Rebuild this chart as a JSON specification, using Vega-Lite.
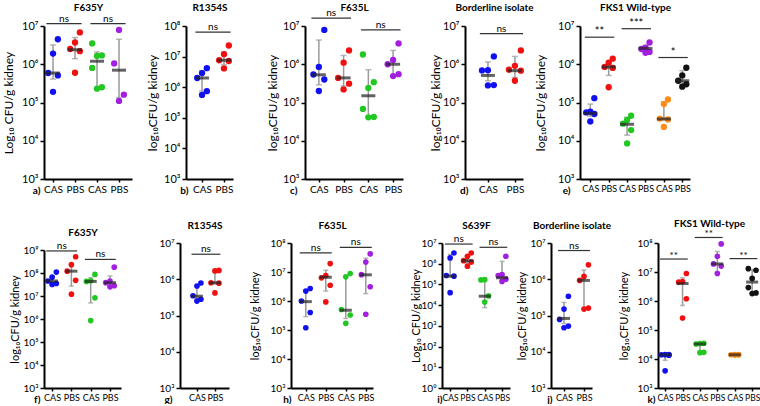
{
"$schema":"https://vega.github.io/schema/vega-lite/v6.json",
"padding":{"left":2,"top":2,"right":0,"bottom":0},
"background":"white",
"datasets":{
"pts":[
{"p":"a","s":1,"v":4.5e6},{"p":"a","s":1,"v":1.9e6},{"p":"a","s":1,"v":5.9e5},{"p":"a","s":1,"v":5.1e5},{"p":"a","s":1,"v":1.9e5},
{"p":"a","s":2,"v":6.8e6},{"p":"a","s":2,"v":3.7e6},{"p":"a","s":2,"v":2.5e6},{"p":"a","s":2,"v":2.2e6},{"p":"a","s":2,"v":6.0e5},
{"p":"a","s":3,"v":3.5e6},{"p":"a","s":3,"v":1.7e6},{"p":"a","s":3,"v":1.65e6},{"p":"a","s":3,"v":8.0e5},{"p":"a","s":3,"v":2.3e5},{"p":"a","s":3,"v":2.5e5},
{"p":"a","s":4,"v":7.9e6},{"p":"a","s":4,"v":1.05e6},{"p":"a","s":4,"v":1.1e5},{"p":"a","s":4,"v":1.6e5},
{"p":"b","s":1,"v":4.2e6},{"p":"b","s":1,"v":2.9e6},{"p":"b","s":1,"v":2.0e6},{"p":"b","s":1,"v":7.4e5},{"p":"b","s":1,"v":5.6e5},
{"p":"b","s":2,"v":2.3e7},{"p":"b","s":2,"v":1.2e7},{"p":"b","s":2,"v":7.6e6},{"p":"b","s":2,"v":7.2e6},{"p":"b","s":2,"v":4.1e6},
{"p":"c","s":1,"v":7.9e6},{"p":"c","s":1,"v":8.5e5},{"p":"c","s":1,"v":5.4e5},{"p":"c","s":1,"v":4.0e5},{"p":"c","s":1,"v":2.0e5},
{"p":"c","s":2,"v":2.3e6},{"p":"c","s":2,"v":1.1e6},{"p":"c","s":2,"v":4.4e5},{"p":"c","s":2,"v":2.2e5},{"p":"c","s":2,"v":3.1e5},
{"p":"c","s":3,"v":1.8e6},{"p":"c","s":3,"v":3.4e5},{"p":"c","s":3,"v":2.4e5},{"p":"c","s":3,"v":6.8e4},{"p":"c","s":3,"v":4.2e4},{"p":"c","s":3,"v":4.1e4},
{"p":"c","s":4,"v":3.5e6},{"p":"c","s":4,"v":1.3e6},{"p":"c","s":4,"v":1.0e6},{"p":"c","s":4,"v":4.9e5},{"p":"c","s":4,"v":5.5e5},
{"p":"d","s":1,"v":1.6e6},{"p":"d","s":1,"v":7.0e5},{"p":"d","s":1,"v":6.9e5},{"p":"d","s":1,"v":2.8e5},{"p":"d","s":1,"v":2.85e5},
{"p":"d","s":2,"v":2.3e6},{"p":"d","s":2,"v":9.1e5},{"p":"d","s":2,"v":7.2e5},{"p":"d","s":2,"v":6.8e5},{"p":"d","s":2,"v":3.7e5},
{"p":"e","s":1,"v":1.3e5},{"p":"e","s":1,"v":5.8e4},{"p":"e","s":1,"v":5.5e4},{"p":"e","s":1,"v":5.0e4},{"p":"e","s":1,"v":3.2e4},
{"p":"e","s":2,"v":1.4e6},{"p":"e","s":2,"v":1.1e6},{"p":"e","s":2,"v":8.5e5},{"p":"e","s":2,"v":8.0e5},{"p":"e","s":2,"v":2.5e5},
{"p":"e","s":3,"v":4.5e4},{"p":"e","s":3,"v":3.5e4},{"p":"e","s":3,"v":2.8e4},{"p":"e","s":3,"v":1.9e4},{"p":"e","s":3,"v":8.5e3},
{"p":"e","s":4,"v":3.7e6},{"p":"e","s":4,"v":2.7e6},{"p":"e","s":4,"v":2.5e6},{"p":"e","s":4,"v":2.1e6},{"p":"e","s":4,"v":2.0e6},
{"p":"e","s":5,"v":1.2e5},{"p":"e","s":5,"v":9.1e4},{"p":"e","s":5,"v":3.8e4},{"p":"e","s":5,"v":3.6e4},{"p":"e","s":5,"v":2.3e4},
{"p":"e","s":6,"v":8.1e5},{"p":"e","s":6,"v":5.1e5},{"p":"e","s":6,"v":3.7e5},{"p":"e","s":6,"v":3.0e5},{"p":"e","s":6,"v":2.6e5},
{"p":"f","s":1,"v":1.1e8},{"p":"f","s":1,"v":6.6e7},{"p":"f","s":1,"v":4.5e7},{"p":"f","s":1,"v":3.5e7},{"p":"f","s":1,"v":3.2e7},
{"p":"f","s":2,"v":5.1e8},{"p":"f","s":2,"v":2.3e8},{"p":"f","s":2,"v":1.2e8},{"p":"f","s":2,"v":4.8e7},{"p":"f","s":2,"v":1.2e7},
{"p":"f","s":3,"v":8.7e7},{"p":"f","s":3,"v":4.6e7},{"p":"f","s":3,"v":4.3e7},{"p":"f","s":3,"v":8.3e6},{"p":"f","s":3,"v":8.5e5},
{"p":"f","s":4,"v":1.8e8},{"p":"f","s":4,"v":4.5e7},{"p":"f","s":4,"v":3.8e7},{"p":"f","s":4,"v":2.5e7},{"p":"f","s":4,"v":2.8e7},
{"p":"g","s":1,"v":7.9e5},{"p":"g","s":1,"v":6.5e5},{"p":"g","s":1,"v":3.5e5},{"p":"g","s":1,"v":2.8e5},{"p":"g","s":1,"v":2.5e5},
{"p":"g","s":2,"v":1.7e6},{"p":"g","s":2,"v":1.75e6},{"p":"g","s":2,"v":8.0e5},{"p":"g","s":2,"v":7.8e5},{"p":"g","s":2,"v":4.2e5},
{"p":"h","s":1,"v":2.7e6},{"p":"h","s":1,"v":2.2e6},{"p":"h","s":1,"v":1.0e6},{"p":"h","s":1,"v":4.0e5},{"p":"h","s":1,"v":1.2e5},
{"p":"h","s":2,"v":1.95e7},{"p":"h","s":2,"v":7.6e6},{"p":"h","s":2,"v":6.3e6},{"p":"h","s":2,"v":3.5e6},{"p":"h","s":2,"v":9.3e5},
{"p":"h","s":3,"v":8.9e6},{"p":"h","s":3,"v":6.8e6},{"p":"h","s":3,"v":5.1e5},{"p":"h","s":3,"v":3.3e5},{"p":"h","s":3,"v":1.7e5},
{"p":"h","s":4,"v":4.2e7},{"p":"h","s":4,"v":2.2e7},{"p":"h","s":4,"v":8.1e6},{"p":"h","s":4,"v":3.1e6},{"p":"h","s":4,"v":3.5e5},
{"p":"i","s":1,"v":3.3e6},{"p":"i","s":1,"v":1.9e6},{"p":"i","s":1,"v":2.7e5},{"p":"i","s":1,"v":2.5e5},{"p":"i","s":1,"v":4.0e4},
{"p":"i","s":2,"v":3.3e6},{"p":"i","s":2,"v":2.3e6},{"p":"i","s":2,"v":1.4e6},{"p":"i","s":2,"v":1.2e6},{"p":"i","s":2,"v":7.6e5},
{"p":"i","s":3,"v":1.7e5},{"p":"i","s":3,"v":1.65e5},{"p":"i","s":3,"v":2.8e4},{"p":"i","s":3,"v":1.4e4},
{"p":"i","s":4,"v":2.3e6},{"p":"i","s":4,"v":3.0e5},{"p":"i","s":4,"v":2.7e5},{"p":"i","s":4,"v":1.8e5},{"p":"i","s":4,"v":1.4e5},
{"p":"j","s":1,"v":3.4e5},{"p":"j","s":1,"v":1.5e5},{"p":"j","s":1,"v":7.8e4},{"p":"j","s":1,"v":4.6e4},{"p":"j","s":1,"v":5.1e4},
{"p":"j","s":2,"v":2.5e6},{"p":"j","s":2,"v":1.2e6},{"p":"j","s":2,"v":9.3e5},{"p":"j","s":2,"v":1.5e5},{"p":"j","s":2,"v":1.6e5},
{"p":"k","s":1,"v":1.4e4},{"p":"k","s":1,"v":1.41e4},{"p":"k","s":1,"v":1.35e4},{"p":"k","s":1,"v":1.42e4},{"p":"k","s":1,"v":3.9e3},
{"p":"k","s":2,"v":8.9e6},{"p":"k","s":2,"v":4.7e6},{"p":"k","s":2,"v":4.5e6},{"p":"k","s":2,"v":1.2e6},{"p":"k","s":2,"v":2.6e5},
{"p":"k","s":3,"v":3.5e4},{"p":"k","s":3,"v":3.4e4},{"p":"k","s":3,"v":3.3e4},{"p":"k","s":3,"v":1.7e4},{"p":"k","s":3,"v":1.65e4},
{"p":"k","s":4,"v":9.3e7},{"p":"k","s":4,"v":3.5e7},{"p":"k","s":4,"v":1.9e7},{"p":"k","s":4,"v":1.6e7},{"p":"k","s":4,"v":8.9e6},
{"p":"k","s":5,"v":1.38e4},{"p":"k","s":5,"v":1.4e4},{"p":"k","s":5,"v":1.42e4},{"p":"k","s":5,"v":1.39e4},{"p":"k","s":5,"v":1.41e4},
{"p":"k","s":6,"v":1.3e7},{"p":"k","s":6,"v":1.15e7},{"p":"k","s":6,"v":6.0e6},{"p":"k","s":6,"v":2.9e6},{"p":"k","s":6,"v":1.9e6},{"p":"k","s":6,"v":1.8e6}
],
"med":[
{"p":"a","s":1,"v":5.9e5},{"p":"a","s":2,"v":2.4e6},{"p":"a","s":3,"v":1.2e6},{"p":"a","s":4,"v":7.0e5},
{"p":"b","s":1,"v":2.0e6},{"p":"b","s":2,"v":7.6e6},
{"p":"c","s":1,"v":5.3e5},{"p":"c","s":2,"v":4.4e5},{"p":"c","s":3,"v":1.5e5},{"p":"c","s":4,"v":1.0e6},
{"p":"d","s":1,"v":5.1e5},{"p":"d","s":2,"v":6.8e5},
{"p":"e","s":1,"v":5.2e4},{"p":"e","s":2,"v":8.5e5},{"p":"e","s":3,"v":2.7e4},{"p":"e","s":4,"v":2.6e6},{"p":"e","s":5,"v":3.7e4},{"p":"e","s":6,"v":3.7e5},
{"p":"f","s":1,"v":4.5e7},{"p":"f","s":2,"v":1.2e8},{"p":"f","s":3,"v":4.3e7},{"p":"f","s":4,"v":3.8e7},
{"p":"g","s":1,"v":3.4e5},{"p":"g","s":2,"v":8.0e5},
{"p":"h","s":1,"v":9.5e5},{"p":"h","s":2,"v":6.6e6},{"p":"h","s":3,"v":4.8e5},{"p":"h","s":4,"v":8.0e6},
{"p":"i","s":1,"v":2.5e5},{"p":"i","s":2,"v":1.4e6},{"p":"i","s":3,"v":2.7e4},{"p":"i","s":4,"v":2.1e5},
{"p":"j","s":1,"v":8.3e4},{"p":"j","s":2,"v":9.3e5},
{"p":"k","s":1,"v":1.4e4},{"p":"k","s":2,"v":4.0e6},{"p":"k","s":3,"v":3.3e4},{"p":"k","s":4,"v":1.9e7},{"p":"k","s":5,"v":1.4e4},{"p":"k","s":6,"v":4.5e6}
],
"err":[
{"p":"a","s":1,"v":4.1e5,"v2":3.2e6},{"p":"a","s":2,"v":1.4e6,"v2":5.0e6},{"p":"a","s":3,"v":2.3e5,"v2":2.1e6},{"p":"a","s":4,"v":1.35e5,"v2":4.5e6},
{"p":"b","s":1,"v":7.5e5,"v2":3.5e6},{"p":"b","s":2,"v":5.5e6,"v2":1.4e7},
{"p":"c","s":1,"v":2.9e5,"v2":4.3e6},{"p":"c","s":2,"v":2.7e5,"v2":1.7e6},{"p":"c","s":3,"v":4.2e4,"v2":7.2e5},{"p":"c","s":4,"v":4.9e5,"v2":2.3e6},
{"p":"d","s":1,"v":3.7e5,"v2":1.15e6},{"p":"d","s":2,"v":4.5e5,"v2":1.6e6},
{"p":"e","s":1,"v":4.4e4,"v2":9.1e4},{"p":"e","s":2,"v":5.1e5,"v2":1.1e6},{"p":"e","s":3,"v":1.4e4,"v2":4.1e4},{"p":"e","s":4,"v":2.2e6,"v2":3.1e6},{"p":"e","s":5,"v":3.6e4,"v2":1.05e5},{"p":"e","s":6,"v":3.0e5,"v2":6.8e5},
{"p":"f","s":1,"v":3.6e7,"v2":6.5e7},{"p":"f","s":2,"v":2.7e7,"v2":2.3e8},{"p":"f","s":3,"v":5.0e6,"v2":6.2e7},{"p":"f","s":4,"v":2.8e7,"v2":7.4e7},
{"p":"g","s":1,"v":2.9e5,"v2":6.5e5},{"p":"g","s":2,"v":7.5e5,"v2":1.6e6},
{"p":"h","s":1,"v":2.9e5,"v2":2.4e6},{"p":"h","s":2,"v":2.2e6,"v2":1.15e7},{"p":"h","s":3,"v":2.5e5,"v2":7.2e6},{"p":"h","s":4,"v":1.8e6,"v2":3.0e7},
{"p":"i","s":1,"v":2.5e5,"v2":2.8e6},{"p":"i","s":2,"v":1.1e6,"v2":2.3e6},{"p":"i","s":3,"v":7.6e3,"v2":1.6e5},{"p":"i","s":4,"v":2.0e5,"v2":1.3e6},
{"p":"j","s":1,"v":6.0e4,"v2":2.3e5},{"p":"j","s":2,"v":1.5e5,"v2":1.8e6},
{"p":"k","s":1,"v":9.0e3,"v2":1.4e4},{"p":"k","s":2,"v":7.0e5,"v2":6.3e6},{"p":"k","s":3,"v":1.7e4,"v2":3.4e4},{"p":"k","s":4,"v":1.0e7,"v2":5.1e7},{"p":"k","s":6,"v":1.8e6,"v2":1.2e7}
],
"sig":[
{"p":"a","a":1,"b":2,"v":1.15e7,"lab":"ns"},{"p":"a","a":3,"b":4,"v":1.15e7,"lab":"ns"},
{"p":"b","a":1,"b":2,"v":6.3e7,"lab":"ns"},
{"p":"c","a":1,"b":2,"v":1.6e7,"lab":"ns"},{"p":"c","a":3,"b":4,"v":7.9e6,"lab":"ns"},
{"p":"d","a":1,"b":2,"v":6.3e6,"lab":"ns"},
{"p":"e","a":1,"b":2,"v":5.1e6,"lab":"**"},{"p":"e","a":3,"b":4,"v":8.5e6,"lab":"***"},{"p":"e","a":5,"b":6,"v":1.5e6,"lab":"*"},
{"p":"f","a":1,"b":2,"v":9.1e8,"lab":"ns"},{"p":"f","a":3,"b":4,"v":3.9e8,"lab":"ns"},
{"p":"g","a":1,"b":2,"v":4.9e6,"lab":"ns"},
{"p":"h","a":1,"b":2,"v":4.6e7,"lab":"ns"},{"p":"h","a":3,"b":4,"v":7.1e7,"lab":"ns"},
{"p":"i","a":1,"b":2,"v":8.9e6,"lab":"ns"},{"p":"i","a":3,"b":4,"v":6.2e6,"lab":"ns"},
{"p":"j","a":1,"b":2,"v":6.2e6,"lab":"ns"},
{"p":"k","a":1,"b":2,"v":2.8e7,"lab":"**"},{"p":"k","a":3,"b":4,"v":1.55e8,"lab":"**"},{"p":"k","a":5,"b":6,"v":2.9e7,"lab":"**"}
]
},
"spacing":23,
"vconcat":[
{"hconcat":[{"hconcat":[{"hconcat":[{"hconcat":[
{"width":88,"height":153,"resolve":{"axis":{"x":"independent"}},
"encoding":{"y":{"field":"v","type":"quantitative","scale":{"type":"log","domain":[1000,10000000],"nice":false},"axis":{"values":[1000,10000,100000,1000000,10000000],"title":"Log₁₀ CFU/g kidney","titlePadding":6,"labelFontSize":11,"titleFontSize":12}}},
"layer":[
{"data":{"name":"err"},"transform":[{"filter":"datum.p=='a'"}],"mark":{"type":"errorbar","color":"#9a9a9a","thickness":1.5,"ticks":{"size":6}},"encoding":{"x":{"field":"s","type":"quantitative","scale":{"domain":[0.59,4.59]},"axis":null},"y2":{"field":"v2"}}},
{"data":{"name":"pts"},"transform":[{"filter":"datum.p=='a'"},{"window":[{"op":"row_number","as":"rk"}],"groupby":["s"],"sort":[{"field":"v"}]},{"calculate":"datum.s+((datum.rk%3)-1)*0.22","as":"xj"}],"mark":{"type":"circle","size":40,"opacity":1},"encoding":{"x":{"field":"xj","type":"quantitative","scale":{"domain":[0.59,4.59]},"axis":{"values":[1,2,3,4],"title":"a)","titleX":-4,"labelFontSize":10}},"color":{"field":"s","type":"nominal","scale":{"domain":[1,2,3,4,5,6],"range":["#1010f0","#f01010","#22c722","#a21fe0","#ff8c1a","#111111"]},"legend":null}}},
{"data":{"name":"med"},"transform":[{"filter":"datum.p=='a'"}],"mark":{"type":"tick","orient":"horizontal","size":14,"thickness":3,"color":"#222222"},"encoding":{"x":{"field":"s","type":"quantitative","scale":{"domain":[0.59,4.59]},"axis":null}}},
{"data":{"name":"sig"},"transform":[{"filter":"datum.p=='a'"},{"calculate":"datum.a-0.3","as":"xa"},{"calculate":"datum.b+0.3","as":"xb"}],"mark":{"type":"rule","color":"#333333","strokeWidth":1.2},"encoding":{"x":{"field":"xa","type":"quantitative","scale":{"domain":[0.59,4.59]},"axis":{"orient":"top","title":"F635Y","titleY":-16}},"x2":{"field":"xb"}}},
{"data":{"name":"sig"},"transform":[{"filter":"datum.p=='a'"},{"calculate":"(datum.a+datum.b)/2","as":"xm"}],"mark":{"type":"text","baseline":"alphabetic","dy":-2,"fontSize":10,"color":"#000000"},"encoding":{"x":{"field":"xm","type":"quantitative","scale":{"domain":[0.59,4.59]},"axis":null},"text":{"field":"lab"}}}
]},
{"width":47,"height":153,"resolve":{"axis":{"x":"independent"}},
"encoding":{"y":{"field":"v","type":"quantitative","scale":{"type":"log","domain":[1000,100000000],"nice":false},"axis":{"values":[1000,10000,100000,1000000,10000000,100000000],"title":"log₁₀CFU/g kidney","titlePadding":4,"labelFontSize":11,"titleFontSize":12}}},
"layer":[
{"data":{"name":"err"},"transform":[{"filter":"datum.p=='b'"}],"mark":{"type":"errorbar","color":"#9a9a9a","thickness":1.5,"ticks":{"size":6}},"encoding":{"x":{"field":"s","type":"quantitative","scale":{"domain":[0.27,2.41]},"axis":null},"y2":{"field":"v2"}}},
{"data":{"name":"pts"},"transform":[{"filter":"datum.p=='b'"},{"window":[{"op":"row_number","as":"rk"}],"groupby":["s"],"sort":[{"field":"v"}]},{"calculate":"datum.s+((datum.rk%3)-1)*0.22","as":"xj"}],"mark":{"type":"circle","size":40,"opacity":1},"encoding":{"x":{"field":"xj","type":"quantitative","scale":{"domain":[0.27,2.41]},"axis":{"values":[1,2],"title":"b)","titleX":2,"labelFontSize":10}},"color":{"field":"s","type":"nominal","scale":{"domain":[1,2,3,4,5,6],"range":["#1010f0","#f01010","#22c722","#a21fe0","#ff8c1a","#111111"]},"legend":null}}},
{"data":{"name":"med"},"transform":[{"filter":"datum.p=='b'"}],"mark":{"type":"tick","orient":"horizontal","size":14,"thickness":3,"color":"#222222"},"encoding":{"x":{"field":"s","type":"quantitative","scale":{"domain":[0.27,2.41]},"axis":null}}},
{"data":{"name":"sig"},"transform":[{"filter":"datum.p=='b'"},{"calculate":"datum.a-0.3","as":"xa"},{"calculate":"datum.b+0.3","as":"xb"}],"mark":{"type":"rule","color":"#333333","strokeWidth":1.2},"encoding":{"x":{"field":"xa","type":"quantitative","scale":{"domain":[0.27,2.41]},"axis":{"orient":"top","title":"R1354S","titleY":-16}},"x2":{"field":"xb"}}},
{"data":{"name":"sig"},"transform":[{"filter":"datum.p=='b'"},{"calculate":"(datum.a+datum.b)/2","as":"xm"}],"mark":{"type":"text","baseline":"alphabetic","dy":-2,"fontSize":10,"color":"#000000"},"encoding":{"x":{"field":"xm","type":"quantitative","scale":{"domain":[0.27,2.41]},"axis":null},"text":{"field":"lab"}}}
]}
],"spacing":14},
{"width":98,"height":153,"resolve":{"axis":{"x":"independent"}},
"encoding":{"y":{"field":"v","type":"quantitative","scale":{"type":"log","domain":[1000,10000000],"nice":false},"axis":{"values":[1000,10000,100000,1000000,10000000],"title":"log₁₀CFU/g kidney","titlePadding":3,"labelFontSize":11,"titleFontSize":12}}},
"layer":[
{"data":{"name":"err"},"transform":[{"filter":"datum.p=='c'"}],"mark":{"type":"errorbar","color":"#9a9a9a","thickness":1.5,"ticks":{"size":6}},"encoding":{"x":{"field":"s","type":"quantitative","scale":{"domain":[0.44,4.4]},"axis":null},"y2":{"field":"v2"}}},
{"data":{"name":"pts"},"transform":[{"filter":"datum.p=='c'"},{"window":[{"op":"row_number","as":"rk"}],"groupby":["s"],"sort":[{"field":"v"}]},{"calculate":"datum.s+((datum.rk%3)-1)*0.22","as":"xj"}],"mark":{"type":"circle","size":40,"opacity":1},"encoding":{"x":{"field":"xj","type":"quantitative","scale":{"domain":[0.44,4.4]},"axis":{"values":[1,2,3,4],"title":"c)","titleX":-8,"labelFontSize":10}},"color":{"field":"s","type":"nominal","scale":{"domain":[1,2,3,4,5,6],"range":["#1010f0","#f01010","#22c722","#a21fe0","#ff8c1a","#111111"]},"legend":null}}},
{"data":{"name":"med"},"transform":[{"filter":"datum.p=='c'"}],"mark":{"type":"tick","orient":"horizontal","size":14,"thickness":3,"color":"#222222"},"encoding":{"x":{"field":"s","type":"quantitative","scale":{"domain":[0.44,4.4]},"axis":null}}},
{"data":{"name":"sig"},"transform":[{"filter":"datum.p=='c'"},{"calculate":"datum.a-0.3","as":"xa"},{"calculate":"datum.b+0.3","as":"xb"}],"mark":{"type":"rule","color":"#333333","strokeWidth":1.2},"encoding":{"x":{"field":"xa","type":"quantitative","scale":{"domain":[0.44,4.4]},"axis":{"orient":"top","title":"F635L","titleY":-16}},"x2":{"field":"xb"}}},
{"data":{"name":"sig"},"transform":[{"filter":"datum.p=='c'"},{"calculate":"(datum.a+datum.b)/2","as":"xm"}],"mark":{"type":"text","baseline":"alphabetic","dy":-2,"fontSize":10,"color":"#000000"},"encoding":{"x":{"field":"xm","type":"quantitative","scale":{"domain":[0.44,4.4]},"axis":null},"text":{"field":"lab"}}}
]}
],"spacing":33},
{"width":58,"height":153,"resolve":{"axis":{"x":"independent"}},
"encoding":{"y":{"field":"v","type":"quantitative","scale":{"type":"log","domain":[1000,10000000],"nice":false},"axis":{"values":[1000,10000,100000,1000000,10000000],"title":"log₁₀CFU/g kidney","titlePadding":0,"labelFontSize":11,"titleFontSize":12}}},
"layer":[
{"data":{"name":"err"},"transform":[{"filter":"datum.p=='d'"}],"mark":{"type":"errorbar","color":"#9a9a9a","thickness":1.5,"ticks":{"size":6}},"encoding":{"x":{"field":"s","type":"quantitative","scale":{"domain":[0.15,2.3]},"axis":null},"y2":{"field":"v2"}}},
{"data":{"name":"pts"},"transform":[{"filter":"datum.p=='d'"},{"window":[{"op":"row_number","as":"rk"}],"groupby":["s"],"sort":[{"field":"v"}]},{"calculate":"datum.s+((datum.rk%3)-1)*0.22","as":"xj"}],"mark":{"type":"circle","size":40,"opacity":1},"encoding":{"x":{"field":"xj","type":"quantitative","scale":{"domain":[0.15,2.3]},"axis":{"values":[1,2],"title":"d)","titleX":3,"labelFontSize":10}},"color":{"field":"s","type":"nominal","scale":{"domain":[1,2,3,4,5,6],"range":["#1010f0","#f01010","#22c722","#a21fe0","#ff8c1a","#111111"]},"legend":null}}},
{"data":{"name":"med"},"transform":[{"filter":"datum.p=='d'"}],"mark":{"type":"tick","orient":"horizontal","size":14,"thickness":3,"color":"#222222"},"encoding":{"x":{"field":"s","type":"quantitative","scale":{"domain":[0.15,2.3]},"axis":null}}},
{"data":{"name":"sig"},"transform":[{"filter":"datum.p=='d'"},{"calculate":"datum.a-0.3","as":"xa"},{"calculate":"datum.b+0.3","as":"xb"}],"mark":{"type":"rule","color":"#333333","strokeWidth":1.2},"encoding":{"x":{"field":"xa","type":"quantitative","scale":{"domain":[0.15,2.3]},"axis":{"orient":"top","title":"Borderline isolate","titleY":-16}},"x2":{"field":"xb"}}},
{"data":{"name":"sig"},"transform":[{"filter":"datum.p=='d'"},{"calculate":"(datum.a+datum.b)/2","as":"xm"}],"mark":{"type":"text","baseline":"alphabetic","dy":-2,"fontSize":10,"color":"#000000"},"encoding":{"x":{"field":"xm","type":"quantitative","scale":{"domain":[0.15,2.3]},"axis":null},"text":{"field":"lab"}}}
]}
],"spacing":26},
{"width":110,"height":153,"resolve":{"axis":{"x":"independent"}},
"encoding":{"y":{"field":"v","type":"quantitative","scale":{"type":"log","domain":[1000,10000000],"nice":false},"axis":{"values":[1000,10000,100000,1000000,10000000],"title":"log₁₀CFU/g kidney","titlePadding":10,"labelFontSize":11,"titleFontSize":12}}},
"layer":[
{"data":{"name":"err"},"transform":[{"filter":"datum.p=='e'"}],"mark":{"type":"errorbar","color":"#9a9a9a","thickness":1.5,"ticks":{"size":6}},"encoding":{"x":{"field":"s","type":"quantitative","scale":{"domain":[0.44,6.42]},"axis":null},"y2":{"field":"v2"}}},
{"data":{"name":"pts"},"transform":[{"filter":"datum.p=='e'"},{"window":[{"op":"row_number","as":"rk"}],"groupby":["s"],"sort":[{"field":"v"}]},{"calculate":"datum.s+((datum.rk%3)-1)*0.22","as":"xj"}],"mark":{"type":"circle","size":40,"opacity":1},"encoding":{"x":{"field":"xj","type":"quantitative","scale":{"domain":[0.44,6.42]},"axis":{"values":[1,2,3,4,5,6],"title":"e)","titleX":-10,"labelFontSize":9}},"color":{"field":"s","type":"nominal","scale":{"domain":[1,2,3,4,5,6],"range":["#1010f0","#f01010","#22c722","#a21fe0","#ff8c1a","#111111"]},"legend":null}}},
{"data":{"name":"med"},"transform":[{"filter":"datum.p=='e'"}],"mark":{"type":"tick","orient":"horizontal","size":14,"thickness":3,"color":"#222222"},"encoding":{"x":{"field":"s","type":"quantitative","scale":{"domain":[0.44,6.42]},"axis":null}}},
{"data":{"name":"sig"},"transform":[{"filter":"datum.p=='e'"},{"calculate":"datum.a-0.3","as":"xa"},{"calculate":"datum.b+0.3","as":"xb"}],"mark":{"type":"rule","color":"#333333","strokeWidth":1.2},"encoding":{"x":{"field":"xa","type":"quantitative","scale":{"domain":[0.44,6.42]},"axis":{"orient":"top","title":"FKS1 Wild-type","titleY":-16}},"x2":{"field":"xb"}}},
{"data":{"name":"sig"},"transform":[{"filter":"datum.p=='e'"},{"calculate":"(datum.a+datum.b)/2","as":"xm"}],"mark":{"type":"text","baseline":"alphabetic","dy":-2,"fontSize":11,"color":"#000000"},"encoding":{"x":{"field":"xm","type":"quantitative","scale":{"domain":[0.44,6.42]},"axis":null},"text":{"field":"lab"}}}
]}
],"spacing":0},
{"hconcat":[{"hconcat":[{"hconcat":[{"hconcat":[{"hconcat":[
{"width":77,"height":145,"resolve":{"axis":{"x":"independent"}},
"encoding":{"y":{"field":"v","type":"quantitative","scale":{"type":"log","domain":[1000,1000000000],"nice":false,"range":[145,7]},"axis":{"values":[1000,10000,100000,1000000,10000000,100000000,1000000000],"title":"log₁₀CFU/g kidney","titlePadding":3,"labelFontSize":10,"titleFontSize":11}}},
"layer":[
{"data":{"name":"err"},"transform":[{"filter":"datum.p=='f'"}],"mark":{"type":"errorbar","color":"#9a9a9a","thickness":1.5,"ticks":{"size":5}},"encoding":{"x":{"field":"s","type":"quantitative","scale":{"domain":[0.58,4.57]},"axis":null},"y2":{"field":"v2"}}},
{"data":{"name":"pts"},"transform":[{"filter":"datum.p=='f'"},{"window":[{"op":"row_number","as":"rk"}],"groupby":["s"],"sort":[{"field":"v"}]},{"calculate":"datum.s+((datum.rk%3)-1)*0.22","as":"xj"}],"mark":{"type":"circle","size":32,"opacity":1},"encoding":{"x":{"field":"xj","type":"quantitative","scale":{"domain":[0.58,4.57]},"axis":{"values":[1,2,3,4],"title":"f)","titleX":-4,"labelFontSize":9}},"color":{"field":"s","type":"nominal","scale":{"domain":[1,2,3,4,5,6],"range":["#1010f0","#f01010","#22c722","#a21fe0","#ff8c1a","#111111"]},"legend":null}}},
{"data":{"name":"med"},"transform":[{"filter":"datum.p=='f'"}],"mark":{"type":"tick","orient":"horizontal","size":12,"thickness":3,"color":"#222222"},"encoding":{"x":{"field":"s","type":"quantitative","scale":{"domain":[0.58,4.57]},"axis":null}}},
{"data":{"name":"sig"},"transform":[{"filter":"datum.p=='f'"},{"calculate":"datum.a-0.3","as":"xa"},{"calculate":"datum.b+0.3","as":"xb"}],"mark":{"type":"rule","color":"#333333","strokeWidth":1.2},"encoding":{"x":{"field":"xa","type":"quantitative","scale":{"domain":[0.58,4.57]},"axis":{"orient":"top","title":"F635Y","titleY":-8}},"x2":{"field":"xb"}}},
{"data":{"name":"sig"},"transform":[{"filter":"datum.p=='f'"},{"calculate":"(datum.a+datum.b)/2","as":"xm"}],"mark":{"type":"text","baseline":"alphabetic","dy":-2,"fontSize":10,"color":"#000000"},"encoding":{"x":{"field":"xm","type":"quantitative","scale":{"domain":[0.58,4.57]},"axis":null},"text":{"field":"lab"}}}
]},
{"width":49,"height":145,"resolve":{"axis":{"x":"independent"}},
"encoding":{"y":{"field":"v","type":"quantitative","scale":{"type":"log","domain":[1000,10000000],"nice":false},"axis":{"values":[1000,10000,100000,1000000,10000000],"title":null,"labelFontSize":10}}},
"layer":[
{"data":{"name":"err"},"transform":[{"filter":"datum.p=='g'"}],"mark":{"type":"errorbar","color":"#9a9a9a","thickness":1.5,"ticks":{"size":5}},"encoding":{"x":{"field":"s","type":"quantitative","scale":{"domain":[0.06,2.78]},"axis":null},"y2":{"field":"v2"}}},
{"data":{"name":"pts"},"transform":[{"filter":"datum.p=='g'"},{"window":[{"op":"row_number","as":"rk"}],"groupby":["s"],"sort":[{"field":"v"}]},{"calculate":"datum.s+((datum.rk%3)-1)*0.22","as":"xj"}],"mark":{"type":"circle","size":32,"opacity":1},"encoding":{"x":{"field":"xj","type":"quantitative","scale":{"domain":[0.06,2.78]},"axis":{"values":[1,2],"title":"g)","titleX":-8,"labelFontSize":9}},"color":{"field":"s","type":"nominal","scale":{"domain":[1,2,3,4,5,6],"range":["#1010f0","#f01010","#22c722","#a21fe0","#ff8c1a","#111111"]},"legend":null}}},
{"data":{"name":"med"},"transform":[{"filter":"datum.p=='g'"}],"mark":{"type":"tick","orient":"horizontal","size":12,"thickness":3,"color":"#222222"},"encoding":{"x":{"field":"s","type":"quantitative","scale":{"domain":[0.06,2.78]},"axis":null}}},
{"data":{"name":"sig"},"transform":[{"filter":"datum.p=='g'"},{"calculate":"datum.a-0.3","as":"xa"},{"calculate":"datum.b+0.3","as":"xb"}],"mark":{"type":"rule","color":"#333333","strokeWidth":1.2},"encoding":{"x":{"field":"xa","type":"quantitative","scale":{"domain":[0.06,2.78]},"axis":{"orient":"top","title":"R1354S","titleY":-15}},"x2":{"field":"xb"}}},
{"data":{"name":"sig"},"transform":[{"filter":"datum.p=='g'"},{"calculate":"(datum.a+datum.b)/2","as":"xm"}],"mark":{"type":"text","baseline":"alphabetic","dy":-2,"fontSize":10,"color":"#000000"},"encoding":{"x":{"field":"xm","type":"quantitative","scale":{"domain":[0.06,2.78]},"axis":null},"text":{"field":"lab"}}}
]}
],"spacing":38},
{"width":82,"height":145,"resolve":{"axis":{"x":"independent"}},
"encoding":{"y":{"field":"v","type":"quantitative","scale":{"type":"log","domain":[1000,100000000],"nice":false},"axis":{"values":[1000,10000,100000,1000000,10000000,100000000],"title":"log₁₀CFU/g kidney","titlePadding":10,"labelFontSize":10,"titleFontSize":11}}},
"layer":[
{"data":{"name":"err"},"transform":[{"filter":"datum.p=='h'"}],"mark":{"type":"errorbar","color":"#9a9a9a","thickness":1.5,"ticks":{"size":5}},"encoding":{"x":{"field":"s","type":"quantitative","scale":{"domain":[0.26,4.36]},"axis":null},"y2":{"field":"v2"}}},
{"data":{"name":"pts"},"transform":[{"filter":"datum.p=='h'"},{"window":[{"op":"row_number","as":"rk"}],"groupby":["s"],"sort":[{"field":"v"}]},{"calculate":"datum.s+((datum.rk%3)-1)*0.22","as":"xj"}],"mark":{"type":"circle","size":32,"opacity":1},"encoding":{"x":{"field":"xj","type":"quantitative","scale":{"domain":[0.26,4.36]},"axis":{"values":[1,2,3,4],"title":"h)","titleX":0,"labelFontSize":9}},"color":{"field":"s","type":"nominal","scale":{"domain":[1,2,3,4,5,6],"range":["#1010f0","#f01010","#22c722","#a21fe0","#ff8c1a","#111111"]},"legend":null}}},
{"data":{"name":"med"},"transform":[{"filter":"datum.p=='h'"}],"mark":{"type":"tick","orient":"horizontal","size":12,"thickness":3,"color":"#222222"},"encoding":{"x":{"field":"s","type":"quantitative","scale":{"domain":[0.26,4.36]},"axis":null}}},
{"data":{"name":"sig"},"transform":[{"filter":"datum.p=='h'"},{"calculate":"datum.a-0.3","as":"xa"},{"calculate":"datum.b+0.3","as":"xb"}],"mark":{"type":"rule","color":"#333333","strokeWidth":1.2},"encoding":{"x":{"field":"xa","type":"quantitative","scale":{"domain":[0.26,4.36]},"axis":{"orient":"top","title":"F635L","titleY":-15}},"x2":{"field":"xb"}}},
{"data":{"name":"sig"},"transform":[{"filter":"datum.p=='h'"},{"calculate":"(datum.a+datum.b)/2","as":"xm"}],"mark":{"type":"text","baseline":"alphabetic","dy":-2,"fontSize":10,"color":"#000000"},"encoding":{"x":{"field":"xm","type":"quantitative","scale":{"domain":[0.26,4.36]},"axis":null},"text":{"field":"lab"}}}
]}
],"spacing":20},
{"width":68,"height":145,"resolve":{"axis":{"x":"independent"}},
"encoding":{"y":{"field":"v","type":"quantitative","scale":{"type":"log","domain":[1,10000000],"nice":false},"axis":{"values":[1,10,100,1000,10000,100000,1000000,10000000],"title":"Log₁₀ CFU/g kidney","titlePadding":0,"labelFontSize":10,"titleFontSize":11}}},
"layer":[
{"data":{"name":"err"},"transform":[{"filter":"datum.p=='i'"}],"mark":{"type":"errorbar","color":"#9a9a9a","thickness":1.5,"ticks":{"size":5}},"encoding":{"x":{"field":"s","type":"quantitative","scale":{"domain":[0.53,4.46]},"axis":null},"y2":{"field":"v2"}}},
{"data":{"name":"pts"},"transform":[{"filter":"datum.p=='i'"},{"window":[{"op":"row_number","as":"rk"}],"groupby":["s"],"sort":[{"field":"v"}]},{"calculate":"datum.s+((datum.rk%3)-1)*0.22","as":"xj"}],"mark":{"type":"circle","size":32,"opacity":1},"encoding":{"x":{"field":"xj","type":"quantitative","scale":{"domain":[0.53,4.46]},"axis":{"values":[1,2,3,4],"title":"i)","titleX":0,"labelFontSize":8.5}},"color":{"field":"s","type":"nominal","scale":{"domain":[1,2,3,4,5,6],"range":["#1010f0","#f01010","#22c722","#a21fe0","#ff8c1a","#111111"]},"legend":null}}},
{"data":{"name":"med"},"transform":[{"filter":"datum.p=='i'"}],"mark":{"type":"tick","orient":"horizontal","size":12,"thickness":3,"color":"#222222"},"encoding":{"x":{"field":"s","type":"quantitative","scale":{"domain":[0.53,4.46]},"axis":null}}},
{"data":{"name":"sig"},"transform":[{"filter":"datum.p=='i'"},{"calculate":"datum.a-0.3","as":"xa"},{"calculate":"datum.b+0.3","as":"xb"}],"mark":{"type":"rule","color":"#333333","strokeWidth":1.2},"encoding":{"x":{"field":"xa","type":"quantitative","scale":{"domain":[0.53,4.46]},"axis":{"orient":"top","title":"S639F","titleY":-15}},"x2":{"field":"xb"}}},
{"data":{"name":"sig"},"transform":[{"filter":"datum.p=='i'"},{"calculate":"(datum.a+datum.b)/2","as":"xm"}],"mark":{"type":"text","baseline":"alphabetic","dy":-2,"fontSize":10,"color":"#000000"},"encoding":{"x":{"field":"xm","type":"quantitative","scale":{"domain":[0.53,4.46]},"axis":null},"text":{"field":"lab"}}}
]}
],"spacing":36},
{"width":41,"height":145,"resolve":{"axis":{"x":"independent"}},
"encoding":{"y":{"field":"v","type":"quantitative","scale":{"type":"log","domain":[1000,10000000],"nice":false},"axis":{"values":[1000,10000,100000,1000000,10000000],"title":"log₁₀CFU/g kidney","titlePadding":3,"labelFontSize":10,"titleFontSize":11}}},
"layer":[
{"data":{"name":"err"},"transform":[{"filter":"datum.p=='j'"}],"mark":{"type":"errorbar","color":"#9a9a9a","thickness":1.5,"ticks":{"size":5}},"encoding":{"x":{"field":"s","type":"quantitative","scale":{"domain":[0.35,2.4]},"axis":null},"y2":{"field":"v2"}}},
{"data":{"name":"pts"},"transform":[{"filter":"datum.p=='j'"},{"window":[{"op":"row_number","as":"rk"}],"groupby":["s"],"sort":[{"field":"v"}]},{"calculate":"datum.s+((datum.rk%3)-1)*0.22","as":"xj"}],"mark":{"type":"circle","size":32,"opacity":1},"encoding":{"x":{"field":"xj","type":"quantitative","scale":{"domain":[0.35,2.4]},"axis":{"values":[1,2],"title":"j)","titleX":1,"labelFontSize":9}},"color":{"field":"s","type":"nominal","scale":{"domain":[1,2,3,4,5,6],"range":["#1010f0","#f01010","#22c722","#a21fe0","#ff8c1a","#111111"]},"legend":null}}},
{"data":{"name":"med"},"transform":[{"filter":"datum.p=='j'"}],"mark":{"type":"tick","orient":"horizontal","size":12,"thickness":3,"color":"#222222"},"encoding":{"x":{"field":"s","type":"quantitative","scale":{"domain":[0.35,2.4]},"axis":null}}},
{"data":{"name":"sig"},"transform":[{"filter":"datum.p=='j'"},{"calculate":"datum.a-0.3","as":"xa"},{"calculate":"datum.b+0.3","as":"xb"}],"mark":{"type":"rule","color":"#333333","strokeWidth":1.2},"encoding":{"x":{"field":"xa","type":"quantitative","scale":{"domain":[0.35,2.4]},"axis":{"orient":"top","title":"Borderline isolate","titleY":-15}},"x2":{"field":"xb"}}},
{"data":{"name":"sig"},"transform":[{"filter":"datum.p=='j'"},{"calculate":"(datum.a+datum.b)/2","as":"xm"}],"mark":{"type":"text","baseline":"alphabetic","dy":-2,"fontSize":10,"color":"#000000"},"encoding":{"x":{"field":"xm","type":"quantitative","scale":{"domain":[0.35,2.4]},"axis":null},"text":{"field":"lab"}}}
]}
],"spacing":6},
{"width":102,"height":145,"resolve":{"axis":{"x":"independent"}},
"encoding":{"y":{"field":"v","type":"quantitative","scale":{"type":"log","domain":[1000,100000000],"nice":false},"axis":{"values":[1000,10000,100000,1000000,10000000,100000000],"title":"log₁₀CFU/g kidney","titlePadding":8,"labelFontSize":10,"titleFontSize":11}}},
"layer":[
{"data":{"name":"err"},"transform":[{"filter":"datum.p=='k'"}],"mark":{"type":"errorbar","color":"#9a9a9a","thickness":1.5,"ticks":{"size":5}},"encoding":{"x":{"field":"s","type":"quantitative","scale":{"domain":[0.59,6.45]},"axis":null},"y2":{"field":"v2"}}},
{"data":{"name":"pts"},"transform":[{"filter":"datum.p=='k'"},{"window":[{"op":"row_number","as":"rk"}],"groupby":["s"],"sort":[{"field":"v"}]},{"calculate":"datum.s+((datum.rk%3)-1)*0.22","as":"xj"}],"mark":{"type":"circle","size":32,"opacity":1},"encoding":{"x":{"field":"xj","type":"quantitative","scale":{"domain":[0.59,6.45]},"axis":{"values":[1,2,3,4,5,6],"title":"k)","titleX":-3,"labelFontSize":8.5}},"color":{"field":"s","type":"nominal","scale":{"domain":[1,2,3,4,5,6],"range":["#1010f0","#f01010","#22c722","#a21fe0","#ff8c1a","#111111"]},"legend":null}}},
{"data":{"name":"med"},"transform":[{"filter":"datum.p=='k'"}],"mark":{"type":"tick","orient":"horizontal","size":12,"thickness":3,"color":"#222222"},"encoding":{"x":{"field":"s","type":"quantitative","scale":{"domain":[0.59,6.45]},"axis":null}}},
{"data":{"name":"sig"},"transform":[{"filter":"datum.p=='k'"},{"calculate":"datum.a-0.3","as":"xa"},{"calculate":"datum.b+0.3","as":"xb"}],"mark":{"type":"rule","color":"#333333","strokeWidth":1.2},"encoding":{"x":{"field":"xa","type":"quantitative","scale":{"domain":[0.59,6.45]},"axis":{"orient":"top","title":"FKS1 Wild-type","titleY":-17}},"x2":{"field":"xb"}}},
{"data":{"name":"sig"},"transform":[{"filter":"datum.p=='k'"},{"calculate":"(datum.a+datum.b)/2","as":"xm"}],"mark":{"type":"text","baseline":"alphabetic","dy":0,"fontSize":10,"color":"#000000"},"encoding":{"x":{"field":"xm","type":"quantitative","scale":{"domain":[0.59,6.45]},"axis":null},"text":{"field":"lab"}}}
]}
],"spacing":7}
],
"config":{
"view":{"stroke":null},
"font":"Lato",
"axis":{"grid":false,"domainColor":"#000000","tickColor":"#000000","labelColor":"#000000","titleColor":"#000000","labelFont":"Lato","titleFont":"Lato"},
"axisLeft":{"domainWidth":2,"tickSize":4,"tickWidth":1.5,"labelPadding":2,"labelFlush":false,"labelOverlap":false,"titleFontWeight":"normal","labelExpr":"'10'+['⁰','¹','²','³','⁴','⁵','⁶','⁷','⁸','⁹'][round(log(datum.value)/LN10)]"},
"axisBottom":{"domainWidth":2,"tickSize":3,"tickWidth":1.5,"labelFontSize":10,"labelPadding":2,"labelFlush":false,"labelOverlap":false,"labelBound":false,"labelAngle":0,"labelExpr":"datum.value % 2 == 1 ? 'CAS' : 'PBS'","titleFontWeight":"bold","titleFontSize":10,"titleAlign":"right","titleBaseline":"middle","titleY":11},
"axisTop":{"domain":false,"ticks":false,"labels":false,"titleFontWeight":"bold","titleFontSize":10,"titleBaseline":"alphabetic"}
}
}
